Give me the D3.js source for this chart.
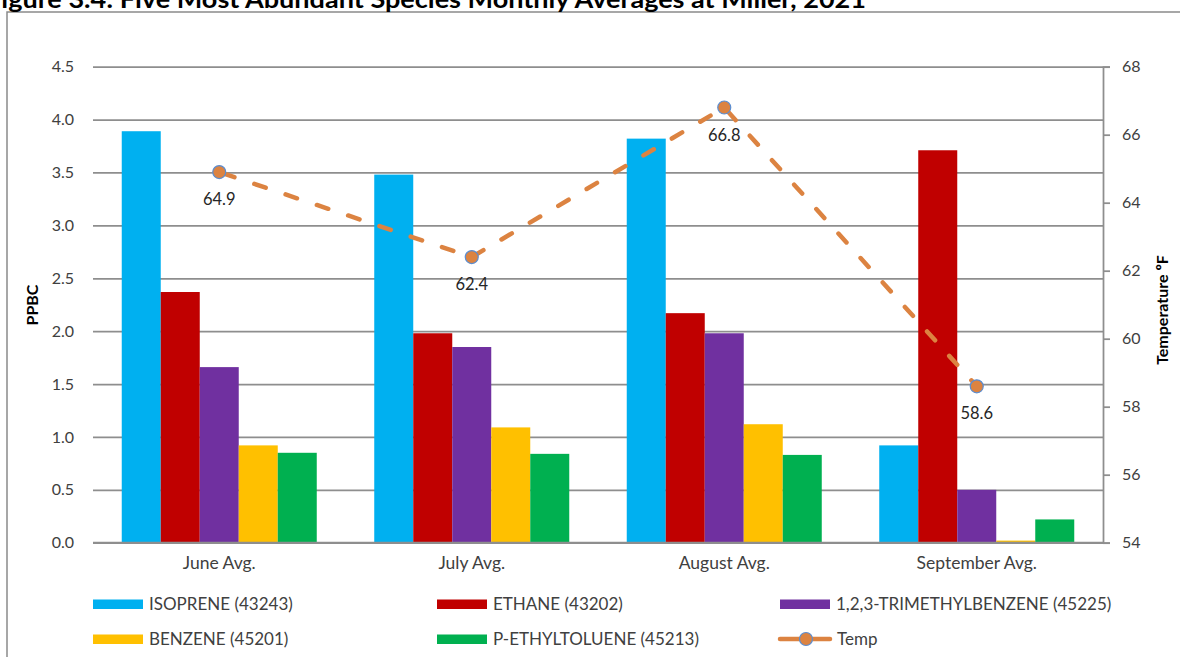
<!DOCTYPE html>
<html>
<head>
<meta charset="utf-8">
<script src="https://cdn.jsdelivr.net/npm/d3@7"></script>
<style>
  html, body { margin: 0; padding: 0; background: #fff; }
  svg { display: block; font-family: Lato, "Open Sans", sans-serif; }
</style>
</head>
<body>
<svg id="chart" width="1180" height="657"></svg>
<script>
// ---- data ----
const categories = ["June Avg.", "July Avg.", "August Avg.", "September Avg."];
const seriesNames = ["ISOPRENE (43243)", "ETHANE (43202)", "1,2,3-TRIMETHYLBENZENE (45225)", "BENZENE (45201)", "P-ETHYLTOLUENE (45213)"];
const isoprene   = [3.89, 3.48, 3.82, 0.92];
const ethane     = [2.37, 1.98, 2.17, 3.71];
const trimethyl  = [1.66, 1.85, 1.98, 0.50];
const benzene    = [0.92, 1.09, 1.12, 0.02];
const ethyltol   = [0.85, 0.84, 0.83, 0.22];
const temp       = [64.9, 62.4, 66.8, 58.6];
const leftTicks  = [0, 0.5, 1.0, 1.5, 2.0, 2.5, 3.0, 3.5, 4.0, 4.5];
const rightTicks = [54, 56, 58, 60, 62, 64, 66, 68];
const titleText  = "Figure 3.4: Five Most Abundant Species Monthly Averages at Miller, 2021";

const seriesValues = [isoprene, ethane, trimethyl, benzene, ethyltol];
const colors = ["#00B0F0", "#C00000", "#7030A0", "#FFC000", "#00B050"];
const tempColor = "#DC8341";
const markerStroke = "#5B8DD0";
const gridColor = "#8E8E8E";
const textColor = "#404040";

// ---- layout ----
const svg = d3.select("#chart");
const plot = { left: 93, right: 1103, top: 66.7, bottom: 542.7 };

const x = d3.scaleBand().domain(categories).range([plot.left, plot.right]).paddingInner(0).paddingOuter(0);
const xSub = d3.scaleBand().domain(d3.range(seriesNames.length)).range([0, x.bandwidth()]).paddingInner(0).paddingOuter(0.737);
const yL = d3.scaleLinear().domain([0, 4.5]).range([plot.bottom, plot.top]);
const yR = d3.scaleLinear().domain([54, 68]).range([plot.bottom, plot.top]);

// frame
svg.append("path")
  .attr("d", `M7,1000 L7,12 L1200,12`)
  .attr("fill", "none").attr("stroke", "#8a8a8a").attr("stroke-width", 1.5);

// title (cut off at the top, as in the reference)
svg.append("text")
  .attr("x", 866).attr("y", 8)
  .attr("text-anchor", "end")
  .attr("font-size", 24).attr("font-weight", "bold").attr("fill", "#000")
  .attr("textLength", 880).attr("lengthAdjust", "spacingAndGlyphs")
  .text(titleText);

// gridlines + left labels
const gL = svg.append("g").attr("transform", `translate(${plot.left},0)`)
  .call(d3.axisLeft(yL).tickValues(leftTicks).tickFormat(d3.format(".1f"))
        .tickSize(-(plot.right - plot.left)).tickPadding(19));
gL.select(".domain").remove();
gL.selectAll(".tick line").attr("stroke", gridColor).attr("stroke-width", 1.75);
gL.selectAll(".tick text").attr("fill", textColor).attr("font-size", 16).attr("font-family", "Lato, sans-serif");

// bars
const groups = svg.append("g").selectAll("g")
  .data(categories).join("g")
  .attr("transform", d => `translate(${x(d)},0)`);
groups.selectAll("rect")
  .data((c, ci) => seriesValues.map((vals, si) => ({ si, v: vals[ci] })))
  .join("rect")
  .attr("x", d => xSub(d.si))
  .attr("width", xSub.bandwidth())
  .attr("y", d => yL(d.v))
  .attr("height", d => plot.bottom - yL(d.v))
  .attr("fill", d => colors[d.si]);

// baseline redraw on top
svg.append("line")
  .attr("x1", plot.left).attr("x2", plot.right)
  .attr("y1", plot.bottom).attr("y2", plot.bottom)
  .attr("stroke", gridColor).attr("stroke-width", 1.75);

// x labels
const gX = svg.append("g").attr("transform", `translate(0,${plot.bottom})`)
  .call(d3.axisBottom(x).tickSize(0).tickPadding(14));
gX.select(".domain").remove();
gX.selectAll(".tick text").attr("fill", textColor).attr("font-size", 17.5).attr("font-family", "Lato, sans-serif");

// right axis
const gR = svg.append("g").attr("transform", `translate(${plot.right},0)`)
  .call(d3.axisRight(yR).tickValues(rightTicks).tickSize(7).tickPadding(12));
gR.select(".domain").attr("stroke", gridColor).attr("stroke-width", 1.75);
gR.selectAll(".tick line").attr("stroke", gridColor).attr("stroke-width", 1.75);
gR.selectAll(".tick text").attr("fill", textColor).attr("font-size", 16).attr("font-family", "Lato, sans-serif");

// temp line
const cx = c => x(c) + x.bandwidth() / 2;
const line = d3.line().x((d, i) => cx(categories[i])).y(d => yR(d));
svg.append("path")
  .datum(temp)
  .attr("d", line)
  .attr("fill", "none")
  .attr("stroke", tempColor)
  .attr("stroke-width", 4.5)
  .attr("stroke-linecap", "round")
  .attr("stroke-dasharray", "12 21")
  .attr("stroke-dashoffset", -4);
svg.append("g").selectAll("circle")
  .data(temp).join("circle")
  .attr("cx", (d, i) => cx(categories[i]))
  .attr("cy", d => yR(d))
  .attr("r", 6.5)
  .attr("fill", tempColor)
  .attr("stroke", markerStroke).attr("stroke-width", 1.2);
svg.append("g").selectAll("text")
  .data(temp).join("text")
  .attr("x", (d, i) => cx(categories[i]))
  .attr("y", d => yR(d) + 33)
  .attr("text-anchor", "middle")
  .attr("font-size", 16.5).attr("fill", "#262626")
  .text(d => d.toFixed(1));

// axis titles
svg.append("text")
  .attr("transform", `translate(38,305) rotate(-90)`)
  .attr("text-anchor", "middle").attr("font-size", 16).attr("font-weight", "bold").attr("fill", "#000")
  .text("PPBC");
svg.append("text")
  .attr("transform", `translate(1168,310) rotate(-90)`)
  .attr("text-anchor", "middle").attr("font-size", 16).attr("font-weight", "bold").attr("fill", "#000")
  .text("Temperature ºF");

// legend
const legendItems = seriesNames.map((n, i) => ({ name: n, color: colors[i], type: "bar" }));
legendItems.push({ name: "Temp", color: tempColor, type: "line" });
const colX = [93, 437, 780];
const rowY = [604, 639];
const lg = svg.append("g").selectAll("g")
  .data(legendItems).join("g")
  .attr("transform", (d, i) => `translate(${colX[i % 3]},${rowY[Math.floor(i / 3)]})`);
lg.filter(d => d.type === "bar").append("rect")
  .attr("x", 0).attr("y", -4.5).attr("width", 50).attr("height", 9.5)
  .attr("fill", d => d.color);
const lineItems = lg.filter(d => d.type === "line");
lineItems.append("line")
  .attr("x1", 0).attr("x2", 50).attr("y1", 0).attr("y2", 0)
  .attr("stroke", tempColor).attr("stroke-width", 4.5).attr("stroke-linecap", "round");
lineItems.append("circle")
  .attr("cx", 26).attr("cy", 0).attr("r", 6.5)
  .attr("fill", tempColor).attr("stroke", markerStroke).attr("stroke-width", 1.2);
lg.append("text")
  .attr("x", d => d.type === "line" ? 57 : 56)
  .attr("y", 0).attr("dy", "0.35em")
  .attr("font-size", 17).attr("fill", textColor)
  .text(d => d.name);
</script>
</body>
</html>
